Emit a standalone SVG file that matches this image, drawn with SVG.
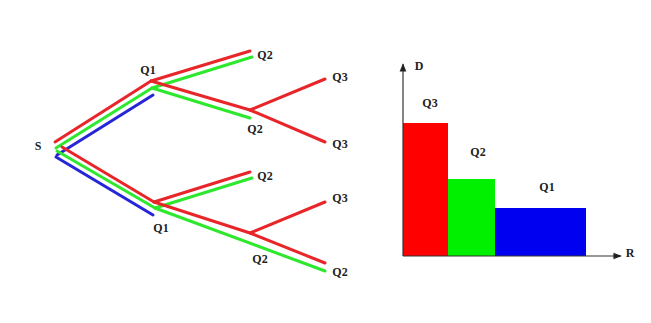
<svg xmlns="http://www.w3.org/2000/svg" width="651" height="323" viewBox="0 0 651 323">
  <style>
    .lbl { font-family: "Liberation Serif", "Times New Roman", serif; font-weight: bold; font-size: 12px; fill: #222; text-anchor: middle; dominant-baseline: central; }
    .r { stroke: #e8262a; stroke-width: 3; fill: none; stroke-linecap: round; stroke-linejoin: round; }
    .g { stroke: #2ee82e; stroke-width: 3; fill: none; stroke-linecap: round; }
    .b { stroke: #2626d8; stroke-width: 3; fill: none; stroke-linecap: round; }
    .axis { stroke: #333; stroke-width: 1.2; fill: none; }
  </style>
  <defs>
    <marker id="arr" viewBox="0 0 10 10" refX="9" refY="5" markerWidth="7" markerHeight="7" orient="auto">
      <path d="M0,1 L10,5 L0,9 z" fill="#222"/>
    </marker>
  </defs>
  <rect width="651" height="323" fill="#fff"/>

  <!-- tree connectors -->
  <g id="connectors">
    <!-- root to upper Q1 -->
    <path class="g" d="M56,148 L152,88"/>
    <path class="b" d="M57,155 L153,95"/>
    <path class="r" d="M55,142 L151,81"/>
    <!-- root to lower Q1 -->
    <path class="b" d="M56,157 L153,215"/>
    <path class="g" d="M57,151 L155,208"/>
    <path class="r" d="M62,147 L154,202"/>
    <!-- upper Q1 branches -->
    <path class="g" d="M152,88 L252,57"/>
    <path class="g" d="M152,88 L250,118"/>
    <path class="r" d="M151,81 L250,51"/>
    <path class="r" d="M151,81 L250,110"/>
    <!-- upper Q2 branches -->
    <path class="r" d="M250,110 L325,79"/>
    <path class="r" d="M250,110 L325,142"/>
    <!-- lower Q1 branches -->
    <path class="g" d="M155,208 L325,271"/>
    <path class="g" d="M155,208 L252,178"/>
    <path class="r" d="M154,202 L250,172"/>
    <path class="r" d="M154,202 L250,233 L325,263"/>
    <!-- lower Q2 branch -->
    <path class="r" d="M250,233 L325,202"/>
  </g>

  <!-- tree nodes -->
  <g id="node-s"><text class="lbl" x="38" y="146">S</text></g>
  <g id="node-q1-upper"><text class="lbl" x="148" y="70">Q1</text></g>
  <g id="node-q2-a"><text class="lbl" x="265" y="55">Q2</text></g>
  <g id="node-q2-b"><text class="lbl" x="255" y="129">Q2</text></g>
  <g id="node-q3-a"><text class="lbl" x="340" y="77">Q3</text></g>
  <g id="node-q3-b"><text class="lbl" x="340" y="144">Q3</text></g>
  <g id="node-q2-c"><text class="lbl" x="265" y="176">Q2</text></g>
  <g id="node-q3-c"><text class="lbl" x="340" y="198">Q3</text></g>
  <g id="node-q1-lower"><text class="lbl" x="161" y="228">Q1</text></g>
  <g id="node-q2-d"><text class="lbl" x="260" y="259">Q2</text></g>
  <g id="node-q2-e"><text class="lbl" x="340" y="272">Q2</text></g>

  <!-- bar chart -->
  <g id="chart">
    <rect x="403" y="123" width="45" height="133" fill="#ff0000"/>
    <rect x="448" y="179" width="47" height="77" fill="#00f000"/>
    <rect x="495" y="208" width="91" height="48" fill="#0000f0"/>
    <line class="axis" x1="403" y1="256" x2="403" y2="64" marker-end="url(#arr)"/>
    <line class="axis" x1="403" y1="256" x2="621" y2="256" marker-end="url(#arr)"/>
    <text class="lbl" x="419" y="66">D</text>
    <text class="lbl" x="430" y="103">Q3</text>
    <text class="lbl" x="478" y="152">Q2</text>
    <text class="lbl" x="547" y="187">Q1</text>
    <text class="lbl" x="630" y="253">R</text>
  </g>
</svg>
